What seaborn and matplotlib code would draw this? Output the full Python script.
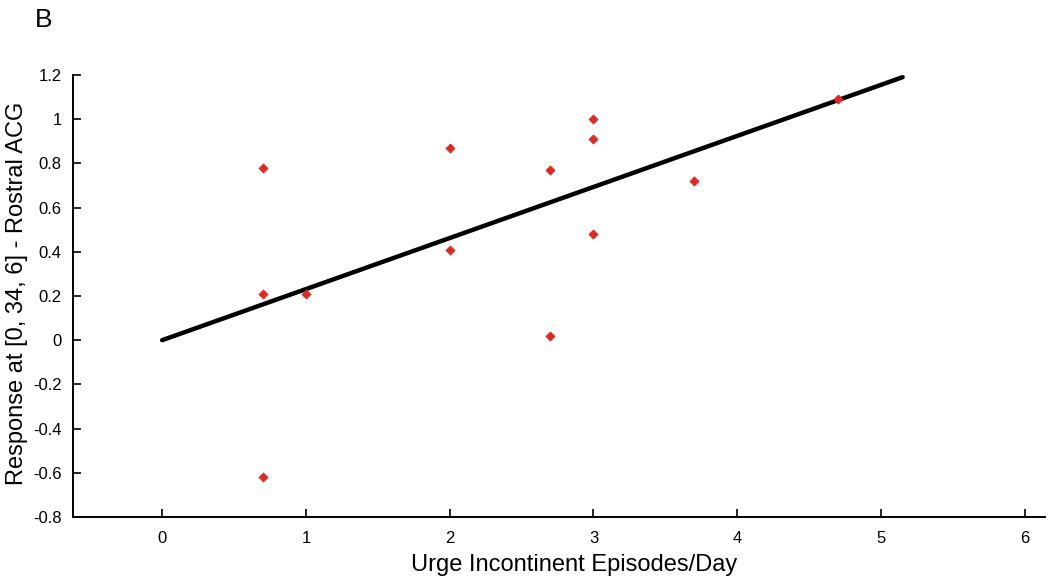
import matplotlib
matplotlib.use("Agg")
import matplotlib.pyplot as plt
import seaborn as sns
import pandas as pd

# scatter points
episodes = [0.70, 0.70, 0.70, 1.0, 2.0, 2.0, 2.70, 2.70, 3.0, 3.0, 3.0, 3.70, 4.70]
response = [0.78, 0.21, -0.62, 0.21, 0.87, 0.41, 0.77, 0.02, 1.00, 0.91, 0.48, 0.72, 1.09]

# regression line endpoints
fit_x = [0.0, 5.15]
fit_y = [0.0, 1.19]

x_ticks = [0, 1, 2, 3, 4, 5, 6]
y_ticks = [-0.8, -0.6, -0.4, -0.2, 0, 0.2, 0.4, 0.6, 0.8, 1, 1.2]
y_tick_labels = ["-0.8", "-0.6", "-0.4", "-0.2", "0", "0.2", "0.4", "0.6", "0.8", "1", "1.2"]

sns.set_style("ticks")
plt.rcParams["font.family"] = ["Liberation Sans", "DejaVu Sans"]
plt.rcParams["text.color"] = "black"
plt.rcParams["axes.labelcolor"] = "black"

pts = pd.DataFrame({"x": episodes, "y": response})
fit = pd.DataFrame({"x": fit_x, "y": fit_y})

fig = plt.figure(figsize=(10.5, 5.82), dpi=100)
ax = fig.add_axes([0.0695, 0.1117, 0.9257, 0.7595])

sns.lineplot(data=fit, x="x", y="y", color="black", linewidth=3.2, ax=ax)
sns.scatterplot(data=pts, x="x", y="y", marker="D", s=22, color="#dd2a22",
                edgecolor="#dd2a22", linewidth=0.5, ax=ax, zorder=3)

ax.set_xlim(-0.62, 6.14)
ax.set_ylim(-0.8, 1.2)
ax.set_xticks(x_ticks)
ax.set_xticklabels([str(t) for t in x_ticks])
ax.set_yticks(y_ticks)
ax.set_yticklabels(y_tick_labels)
ax.tick_params(direction="in", length=6, width=1.2, labelsize=12, colors="black", pad=10)
ax.tick_params(axis="y", pad=8)
for side in ["top", "right"]:
    ax.spines[side].set_visible(False)
for side in ["left", "bottom"]:
    ax.spines[side].set_linewidth(1.4)
    ax.spines[side].set_color("black")

ax.set_xlabel("Urge Incontinent Episodes/Day", fontsize=17)
ax.set_ylabel("Response at [0, 34, 6] - Rostral ACG", fontsize=17)
ax.xaxis.set_label_coords(0.516, -0.084)
ax.yaxis.set_label_coords(-0.046, 0.505)

fig.text(0.033, 0.966, "B", fontsize=19, ha="left", va="center")

fig.savefig("out.png", dpi=100)
